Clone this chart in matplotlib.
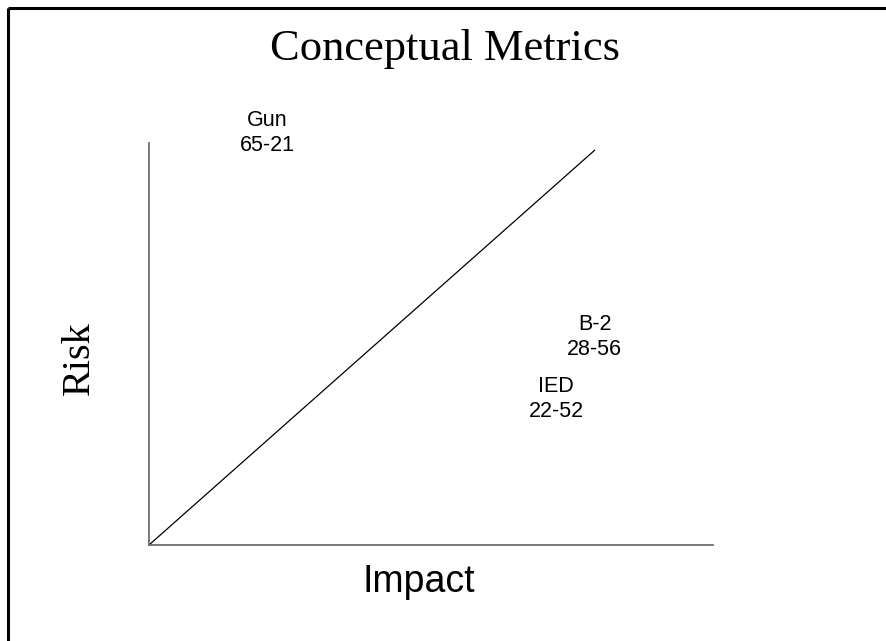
import matplotlib.pyplot as plt
from matplotlib.lines import Line2D

W, H = 886, 641

# items on the chart: name, score label, position (impact, risk)
nombres = ['Gun', 'B-2', 'IED']
puntajes = ['65-21', '28-56', '22-52']
impacto = [0.209, 0.790, 0.722]
riesgo = [1.026, 0.518, 0.363]

# reference diagonal
diag_x = [0.0, 0.791]
diag_y = [0.0, 0.983]

fig = plt.figure(figsize=(W / 100, H / 100), dpi=100)

# outer frame (only left and top edges are visible)
fig.add_artist(Line2D([8 / W, 8 / W], [0, 1 - 8 / H], transform=fig.transFigure,
                      color='black', lw=2.2, solid_capstyle='butt'))
fig.add_artist(Line2D([8 / W, 1], [1 - 8 / H, 1 - 8 / H], transform=fig.transFigure,
                      color='black', lw=2.2, solid_capstyle='butt'))

x0, x1 = 149, 713
y0, y1 = 143, 545
ax = fig.add_axes([x0 / W, 1 - y1 / H, (x1 - x0) / W, (y1 - y0) / H])
ax.set_xlim(0, 1)
ax.set_ylim(0, 1)
for lado in ['top', 'right']:
    ax.spines[lado].set_visible(False)
for lado in ['left', 'bottom']:
    ax.spines[lado].set_color('#6e6e6e')
    ax.spines[lado].set_linewidth(1.3)
ax.set_xticks([])
ax.set_yticks([])
ax.patch.set_visible(False)

ax.plot(diag_x, diag_y, color='black', lw=0.9, solid_capstyle='butt')

for n, p, xi, yi in zip(nombres, puntajes, impacto, riesgo):
    ax.text(xi, yi, n + '\n' + p, ha='center', va='center', fontsize=15.5,
            family='Liberation Sans', linespacing=1.25, clip_on=False)

fig.text(445 / W, 1 - 49 / H, 'Conceptual Metrics', ha='center', va='center',
         fontsize=32, family='Liberation Serif')
fig.text(79 / W, 1 - 358 / H, 'Risk', ha='center', va='center', rotation=90,
         fontsize=29, family='Liberation Serif')
fig.text(419 / W, 1 - 582 / H, 'Impact', ha='center', va='center',
         fontsize=27, family='Liberation Sans')

fig.savefig('out.png', dpi=100)
